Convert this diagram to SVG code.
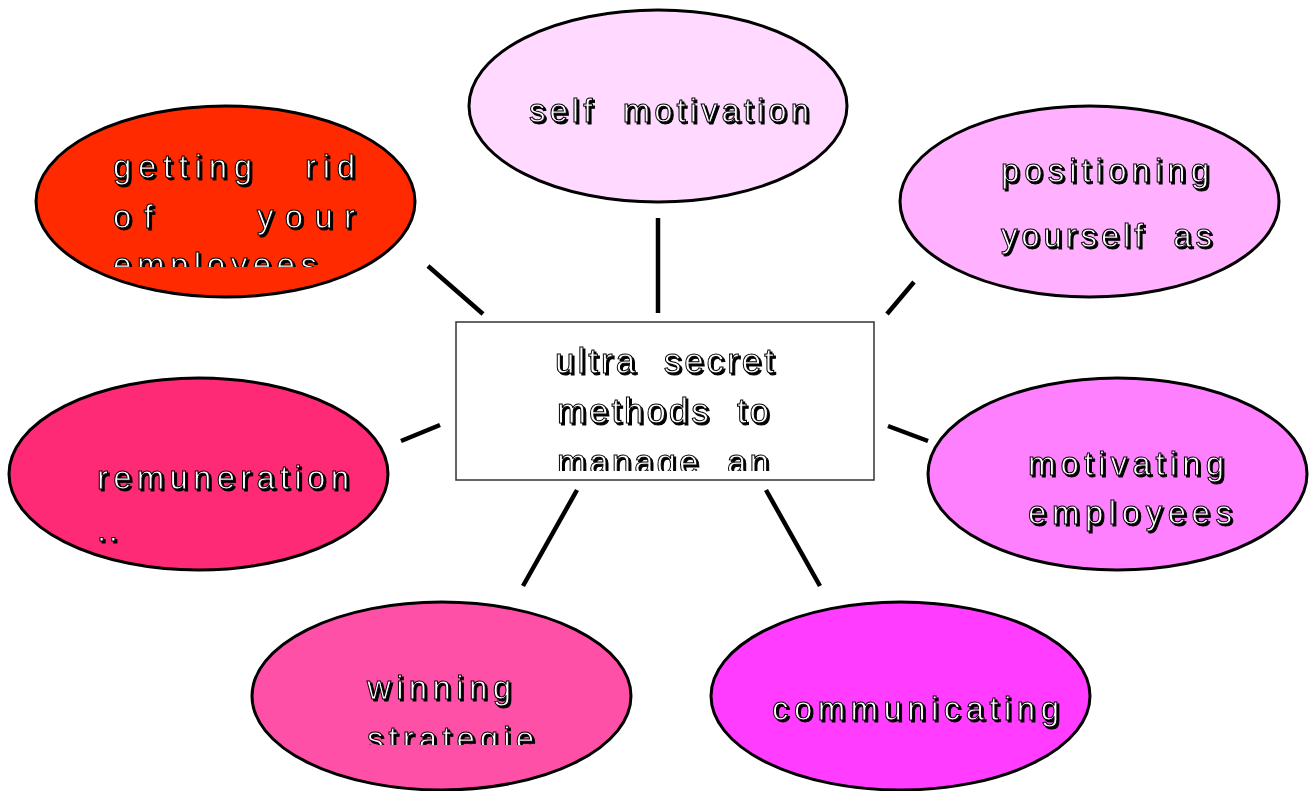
<svg xmlns="http://www.w3.org/2000/svg" width="1311" height="791" viewBox="0 0 1311 791" xml:space="preserve">
<style>
.n{stroke:#000;stroke-width:3}
.t{font-family:"Liberation Sans",Arial,sans-serif;font-size:33px;fill:#fff;stroke:#000;stroke-width:1;filter:url(#sh);white-space:pre}
.m{font-size:35px}
.c{stroke:#000;stroke-width:4.5;fill:none}
</style>
<defs>
<filter id="sh" x="-10%" y="-30%" width="130%" height="170%">
<feOffset in="SourceAlpha" dx="2" dy="2" result="o"/>
<feMerge><feMergeNode in="o"/><feMergeNode in="SourceGraphic"/></feMerge>
</filter>
<clipPath id="clipA"><rect x="0" y="0" width="1311" height="267"/></clipPath>
<clipPath id="clipB"><rect x="0" y="0" width="1311" height="471"/></clipPath>
<clipPath id="clipC"><rect x="0" y="0" width="1311" height="745"/></clipPath>
</defs>
<rect width="1311" height="791" fill="#fff"/>
<g id="connectors">
<line class="c" x1="658" y1="218" x2="658" y2="313"/>
<line class="c" x1="428" y1="266" x2="483" y2="314"/>
<line class="c" x1="914" y1="282" x2="887" y2="314"/>
<line class="c" x1="401" y1="441" x2="440" y2="425"/>
<line class="c" x1="888" y1="426" x2="928" y2="441"/>
<line class="c" x1="577" y1="490" x2="523" y2="586"/>
<line class="c" x1="766" y1="490" x2="820" y2="586"/>
</g>
<g id="center">
<rect x="456" y="322" width="418" height="158" fill="#fff" stroke="#333" stroke-width="1.5"/>
<text class="t m" x="555" y="373" textLength="219" lengthAdjust="spacing">ultra  secret</text>
<text class="t m" x="557" y="423" textLength="212" lengthAdjust="spacing">methods  to</text>
<g clip-path="url(#clipB)"><text class="t m" x="557" y="474" textLength="212" lengthAdjust="spacing">manage  an</text></g>
</g>
<g id="self-motivation">
<ellipse class="n" cx="658" cy="106" rx="189" ry="96" fill="#FFD9FF"/>
<text class="t" x="529" y="122" textLength="280" lengthAdjust="spacing">self  motivation</text>
</g>
<g id="getting-rid">
<ellipse class="n" cx="225.5" cy="201.5" rx="189.5" ry="95.5" fill="#FF2A00"/>
<text class="t" x="113" y="178" textLength="139" lengthAdjust="spacing">getting</text>
<text class="t" x="305" y="178" textLength="50" lengthAdjust="spacing">rid</text>
<text class="t" x="113" y="228" textLength="40" lengthAdjust="spacing">of</text>
<text class="t" x="257" y="228" textLength="98" lengthAdjust="spacing">your</text>
<g clip-path="url(#clipA)"><text class="t" x="113" y="276" textLength="204" lengthAdjust="spacing">employees</text></g>
</g>
<g id="positioning">
<ellipse class="n" cx="1089.5" cy="201.5" rx="189.5" ry="95.5" fill="#FFB0FF"/>
<text class="t" x="1001" y="182" textLength="208" lengthAdjust="spacing">positioning</text>
<text class="t" x="1001" y="247" textLength="211" lengthAdjust="spacing">yourself  as</text>
</g>
<g id="remuneration">
<ellipse class="n" cx="198.5" cy="474" rx="189.5" ry="96" fill="#FF2A75"/>
<text class="t" x="97" y="489" textLength="252" lengthAdjust="spacing">remuneration</text>
<text class="t" x="97" y="541" textLength="21" lengthAdjust="spacing">..</text>
</g>
<g id="motivating">
<ellipse class="n" cx="1117.5" cy="474" rx="189.5" ry="96" fill="#FF80FF"/>
<text class="t" x="1028" y="475" textLength="196" lengthAdjust="spacing">motivating</text>
<text class="t" x="1028" y="524" textLength="204" lengthAdjust="spacing">employees</text>
</g>
<g id="winning">
<ellipse class="n" cx="441.5" cy="696" rx="189.5" ry="94" fill="#FF50A8"/>
<text class="t" x="367" y="699" textLength="144" lengthAdjust="spacing">winning</text>
<g clip-path="url(#clipC)"><text class="t" x="367" y="750" textLength="167" lengthAdjust="spacing">strategie</text></g>
</g>
<g id="communicating">
<ellipse class="n" cx="900.5" cy="696" rx="189.5" ry="94" fill="#FF3CFF"/>
<text class="t" x="772" y="720" textLength="287" lengthAdjust="spacing">communicating</text>
</g>
</svg>
